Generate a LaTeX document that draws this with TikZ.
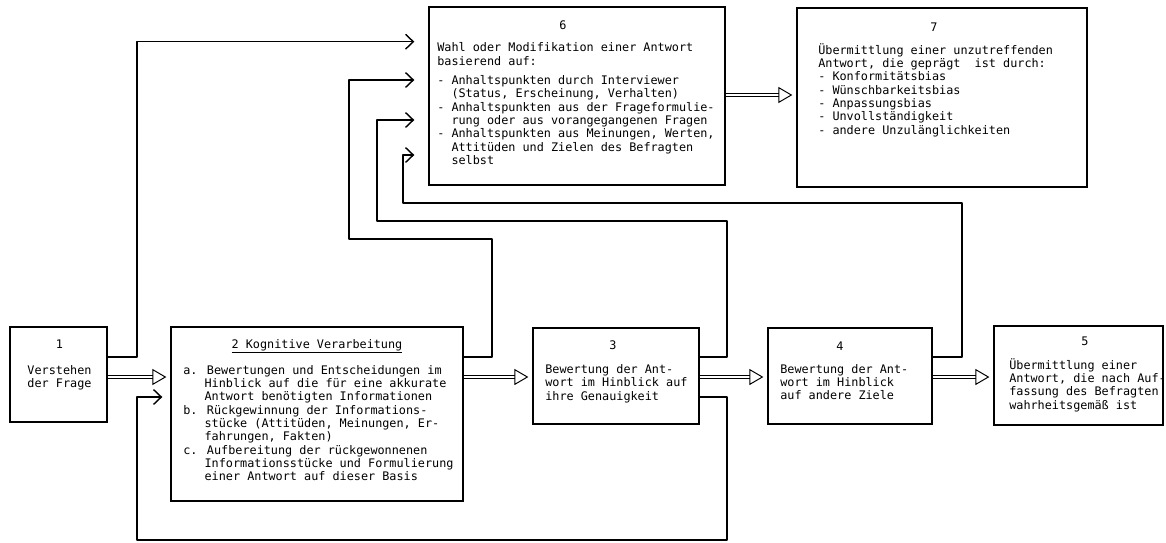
\documentclass[tikz,border=0pt]{standalone}
\usepackage{fontspec}
\newfontfamily\tw{DejaVu Sans Mono}
\usetikzlibrary{arrows.meta}
\newcommand{\fl}{\rule{0pt}{8pt}}
\tikzset{
  box/.style={draw, line width=0.9pt, inner sep=0pt},
  txt/.style={font=\tw\fontsize{8.4}{9.5}\selectfont, align=left, inner sep=0pt, anchor=north west},
  num/.style={font=\tw\fontsize{8.4}{9.5}\selectfont, inner sep=0pt},
  fb/.style={line width=1pt, line join=round, -{Straight Barb[length=5.5pt,width=10.5pt,line width=1pt]}},
  hollow/.style={double, line width=0.7pt, double distance=1.9pt, shorten >=0.1cm,
    -{Triangle[open,length=10pt,width=11.5pt,line width=0.7pt]}}
}

\begin{document}
\begin{tikzpicture}[x=0.025cm, y=-0.025cm]
\useasboundingbox (0,0) rectangle (1166,542);
%boxes
\node[box, minimum width=2.425cm, minimum height=2.375cm] (b1) at (58.5,374.5) {};
\node[box, minimum width=7.3cm, minimum height=4.35cm] (b2) at (317,414) {};
\node[box, minimum width=4.15cm, minimum height=2.4cm] (b3) at (616,376) {};
\node[box, minimum width=4.1cm, minimum height=2.4cm] (b4) at (850,376) {};
\node[box, minimum width=4.225cm, minimum height=2.475cm] (b5) at (1078.5,375.5) {};
\node[box, minimum width=7.4cm, minimum height=4.45cm] (b6) at (577,96) {};
\node[box, minimum width=7.25cm, minimum height=4.475cm] (b7) at (942,97.5) {};
%texts
\node[num] (n1) at (59.5,344) {1};
\node[txt, align=center, anchor=north] (t1) at (59.5,362.5) {\fl Verstehen\\der Frage};
\node[num, anchor=base] (n2) at (317,348) {\underline{2 Kognitive Verarbeitung}};
\node[txt] (t2) at (183,362.5) {\fl a. Bewertungen und Entscheidungen im\\
\phantom{a.~}Hinblick auf die für eine akkurate\\
\phantom{a.~}Antwort benötigten Informationen\\
b. Rückgewinnung der Informations-\\
\phantom{b.~}stücke (Attitüden, Meinungen, Er-\\
\phantom{b.~}fahrungen, Fakten)\\
c. Aufbereitung der rückgewonnenen\\
\phantom{c.~}Informationsstücke und Formulierung\\
\phantom{c.~}einer Antwort auf dieser Basis};
\node[num] (n3) at (613,345) {3};
\node[txt] (t3) at (545,361.8) {\fl Bewertung der Ant-\\wort im Hinblick auf\\ihre Genauigkeit};
\node[num] (n4) at (840,346.5) {4};
\node[txt] (t4) at (780,361.5) {\fl Bewertung der Ant-\\wort im Hinblick\\auf andere Ziele};
\node[num] (n5) at (1085,341.7) {5};
\node[txt] (t5) at (1009,357.5) {\fl Übermittlung einer\\Antwort, die nach Auf-\\fassung des Befragten\\wahrheitsgemäß ist};
\node[num] (n6) at (563,25) {6};
\node[txt] (t6) at (437,40.2) {\fl Wahl oder Modifikation einer Antwort\\basierend auf:\\[4.2pt]
- Anhaltspunkten durch Interviewer\\
\phantom{-~}(Status, Erscheinung, Verhalten)\\
- Anhaltspunkten aus der Frageformulie-\\
\phantom{-~}rung oder aus vorangegangenen Fragen\\
- Anhaltspunkten aus Meinungen, Werten,\\
\phantom{-~}Attitüden und Zielen des Befragten\\
\phantom{-~}selbst};
\node[num] (n7) at (934,26.7) {7};
\node[txt] (t7) at (818,42.5) {\fl Übermittlung einer unzutreffenden\\Antwort, die geprägt~~ist durch:\\
- Konformitätsbias\\- Wünschbarkeitsbias\\- Anpassungsbias\\- Unvollständigkeit\\- andere Unzulänglichkeiten};
%main flow
\foreach \a/\b in {b1/b2,b2/b3,b3/b4,b4/b5}
  \draw[hollow] (\a.east |- 0,377) -- (\b.west |- 0,377);
\draw[hollow] (b6.east |- 0,95) -- (b7.west |- 0,95);
%feedback to 6
\draw[fb, shorten >=0.35cm] (b1.east |- 0,357) -| (137,41.7) -- (b6.west |- 0,41.7);
\foreach \src/\xr/\yh/\xl/\ya in {b2/492/239/349/80,b3/727/221/377/120,b4/962/203/403/155}
  \draw[fb, shorten >=0.35cm] (\src.east |- 0,357) -| (\xr,\yh) -| (\xl,\ya) -- (b6.west |- 0,\ya);
%feedback to 2
\draw[fb, shorten >=0.2cm] (b3.east |- 0,397) -| (727,540) -| (137,397) -- (b2.west |- 0,397);
\end{tikzpicture}
\end{document}
